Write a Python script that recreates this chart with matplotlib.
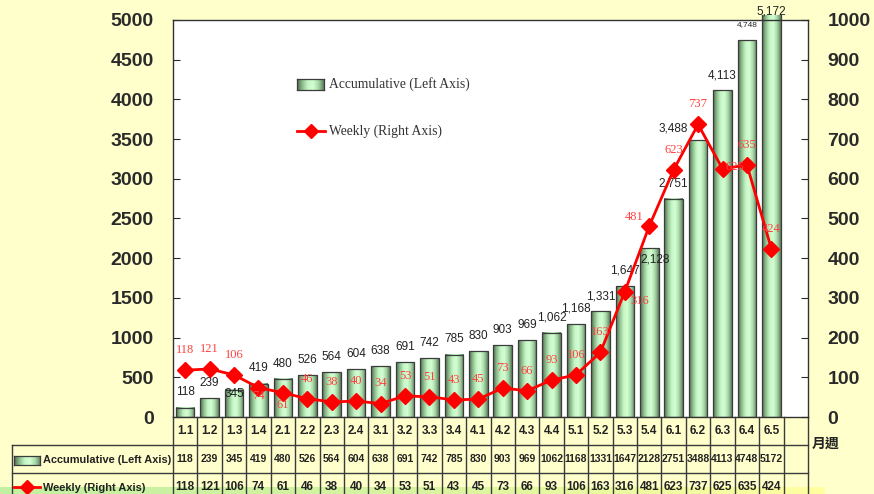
import numpy as np
import matplotlib
matplotlib.use("Agg")
import matplotlib.pyplot as plt
import matplotlib.transforms as mtransforms
from matplotlib.colors import LinearSegmentedColormap
from matplotlib.patches import Rectangle
from matplotlib.lines import Line2D

# data
weeks = ["1.1", "1.2", "1.3", "1.4", "2.1", "2.2", "2.3", "2.4",
         "3.1", "3.2", "3.3", "3.4", "4.1", "4.2", "4.3", "4.4",
         "5.1", "5.2", "5.3", "5.4", "6.1", "6.2", "6.3", "6.4", "6.5"]
accum = [118, 239, 345, 419, 480, 526, 564, 604, 638, 691, 742, 785, 830,
         903, 969, 1062, 1168, 1331, 1647, 2128, 2751, 3488, 4113, 4748, 5172]
weekly = [118, 121, 106, 74, 61, 46, 38, 40, 34, 53, 51, 43, 45,
          73, 66, 93, 106, 163, 316, 481, 623, 737, 625, 635, 424]
left_ticks = list(range(0, 5001, 500))
right_ticks = list(range(0, 1001, 100))
acc_name = "Accumulative (Left Axis)"
wk_name = "Weekly (Right Axis)"

W, H = 874, 494
BG = "#ffffcc"
SANS = ["Liberation Sans", "DejaVu Sans"]
SERIF = ["Liberation Serif", "DejaVu Serif"]
bar_cmap = LinearSegmentedColormap.from_list(
    "cyl", ["#4f6b4f", "#8fbf8f", "#c6f5c6", "#d2ffd2", "#a8d8a8", "#5f7f5f"])
grad = np.linspace(0, 1, 64).reshape(1, -1)


def fx(px):
    return px / W


def fy(py):
    return 1 - py / H


fig = plt.figure(figsize=(W / 100, H / 100), dpi=100, facecolor=BG)

# green-to-yellow strip along the bottom edge
band = fig.add_axes([0, 0, fx(825), 7 / H], zorder=-5)
band.imshow(grad, aspect="auto", extent=[0, 1, 0, 1],
            cmap=LinearSegmentedColormap.from_list("b", ["#c2f0a2", "#d8f4a0", "#ffffa0"]))
band.set_axis_off()

ax = fig.add_axes([fx(173), fy(417), fx(808 - 173), (417 - 20) / H])
ax.set_facecolor("white")
n_slots = len(weeks) + 1
x = np.arange(len(weeks))
bw = 0.76
clip = Rectangle((-0.5, 0), n_slots, 5060, transform=ax.transData)

for xi, v in zip(x, accum):
    im = ax.imshow(grad, aspect="auto", cmap=bar_cmap, zorder=2,
                   extent=[xi - bw / 2, xi + bw / 2, 0, v])
    im.set_clip_path(clip)
bars = ax.bar(x, accum, width=bw, fill=False, edgecolor="#3c3c3c", lw=0.9, zorder=3)
for p in bars:
    p.set_clip_path(clip)

ax.set_xlim(-0.5, n_slots - 0.5)
ax.set_ylim(0, 5000)
ax.set_xticks([])
ax.set_yticks(left_ticks)
ax.tick_params(axis="y", direction="in", length=5, pad=14, colors="#2a2a2a",
               labelsize=14)
for t in ax.get_yticklabels():
    t.set_fontweight("bold")
    t.set_family(SANS)
for s in ax.spines.values():
    s.set_color("#333333")
    s.set_linewidth(1.0)

# black labels on bars
acc_off = {2: (0, -3), 19: (4, -8), 21: (-18, 8), 24: (0, 3)}
for xi, v in zip(x, accum):
    dx, dy = acc_off.get(xi, (0, 11))
    ax.annotate(f"{v:,}", (xi, min(v, 5060)), xytext=(dx, dy),
                textcoords="offset points", ha="center", va="center",
                fontsize=6 if xi == 23 else 8.5, color="#222222",
                family=SANS, zorder=6, annotation_clip=False)

ax2 = ax.twinx()
ax2.set_ylim(0, 1000)
ax2.set_yticks(right_ticks)
ax2.tick_params(axis="y", direction="in", length=5, pad=14, colors="#2a2a2a",
                labelsize=14)
for t in ax2.get_yticklabels():
    t.set_fontweight("bold")
    t.set_family(SANS)
for s in ax2.spines.values():
    s.set_visible(False)
ax2.plot(x, weekly, color="#ff0000", lw=2, marker="D", ms=8.5, zorder=5,
         clip_on=False)
wk_off = {3: (0, -6), 4: (0, -9), 18: (11, -7), 19: (-11, 6.5), 22: (9, 1.5)}
for xi, v in zip(x, weekly):
    dx, dy = wk_off.get(xi, (0, 14.5))
    ax2.annotate(str(v), (xi, v), xytext=(dx, dy), textcoords="offset points",
                 ha="center", va="center", fontsize=9, color="#ff4040",
                 family=SERIF, zorder=6, annotation_clip=False)


def swatch(x0, y0, w, h):
    sa = fig.add_axes([fx(x0), fy(y0 + h), w / W, h / H])
    sa.imshow(grad, aspect="auto", cmap=bar_cmap, extent=[0, 1, 0, 1])
    sa.set_xticks([])
    sa.set_yticks([])
    for s in sa.spines.values():
        s.set_color("#3c3c3c")
        s.set_linewidth(0.9)


def line_icon(x0, x1, y):
    fig.add_artist(Line2D([fx(x0), fx(x1)], [fy(y), fy(y)], color="#ff0000", lw=2,
                          transform=fig.transFigure))
    fig.add_artist(Line2D([fx((x0 + x1) / 2)], [fy(y)], color="#ff0000", marker="D",
                          ms=7, transform=fig.transFigure))


# legend inside the plot
swatch(297, 79, 27, 11)
fig.text(fx(329), fy(84), acc_name, ha="left", va="center", fontsize=9.8,
         family=SERIF, color="#333333")
line_icon(297, 325, 131)
fig.text(fx(329), fy(131), wk_name, ha="left", va="center", fontsize=9.8,
         family=SERIF, color="#333333")

# data table under the chart
tr = mtransforms.blended_transform_factory(ax.transData, fig.transFigure)
lc = "#3a3a3a"
for yy in (445, 473):
    fig.add_artist(Line2D([fx(12), fx(808)], [fy(yy), fy(yy)], color=lc, lw=1,
                          transform=fig.transFigure))
fig.add_artist(Line2D([fx(12), fx(12)], [fy(445), 0], color=lc, lw=1,
                      transform=fig.transFigure))
for b in np.arange(n_slots + 1) - 0.5:
    fig.add_artist(Line2D([b, b], [fy(417), 0], color=lc, lw=1, transform=tr))

cell = dict(ha="center", va="center", fontweight="bold",
            color="#222222", family=SANS, transform=tr)
for xi in x:
    fig.text(xi, fy(431), weeks[xi], fontsize=8.5, **cell)
    fig.text(xi, fy(459), str(accum[xi]), fontsize=7.5, **cell)
    fig.text(xi, fy(487), str(weekly[xi]), fontsize=8.5, **cell)

swatch(14, 456, 26, 9)
fig.text(fx(43), fy(460), acc_name, ha="left", va="center", fontsize=7.9,
         fontweight="bold", color="#222222", family=SANS)
line_icon(14, 40, 487)
fig.text(fx(43), fy(488), wk_name, ha="left", va="center", fontsize=7.9,
         fontweight="bold", color="#222222", family=SANS)

fig.text(fx(826), fy(444), "月週", ha="center", va="center", fontsize=10,
         fontweight="bold", color="#222222",
         family=["Noto Sans CJK TC", "DejaVu Sans"])

fig.savefig("out.png", dpi=100, facecolor=BG)
